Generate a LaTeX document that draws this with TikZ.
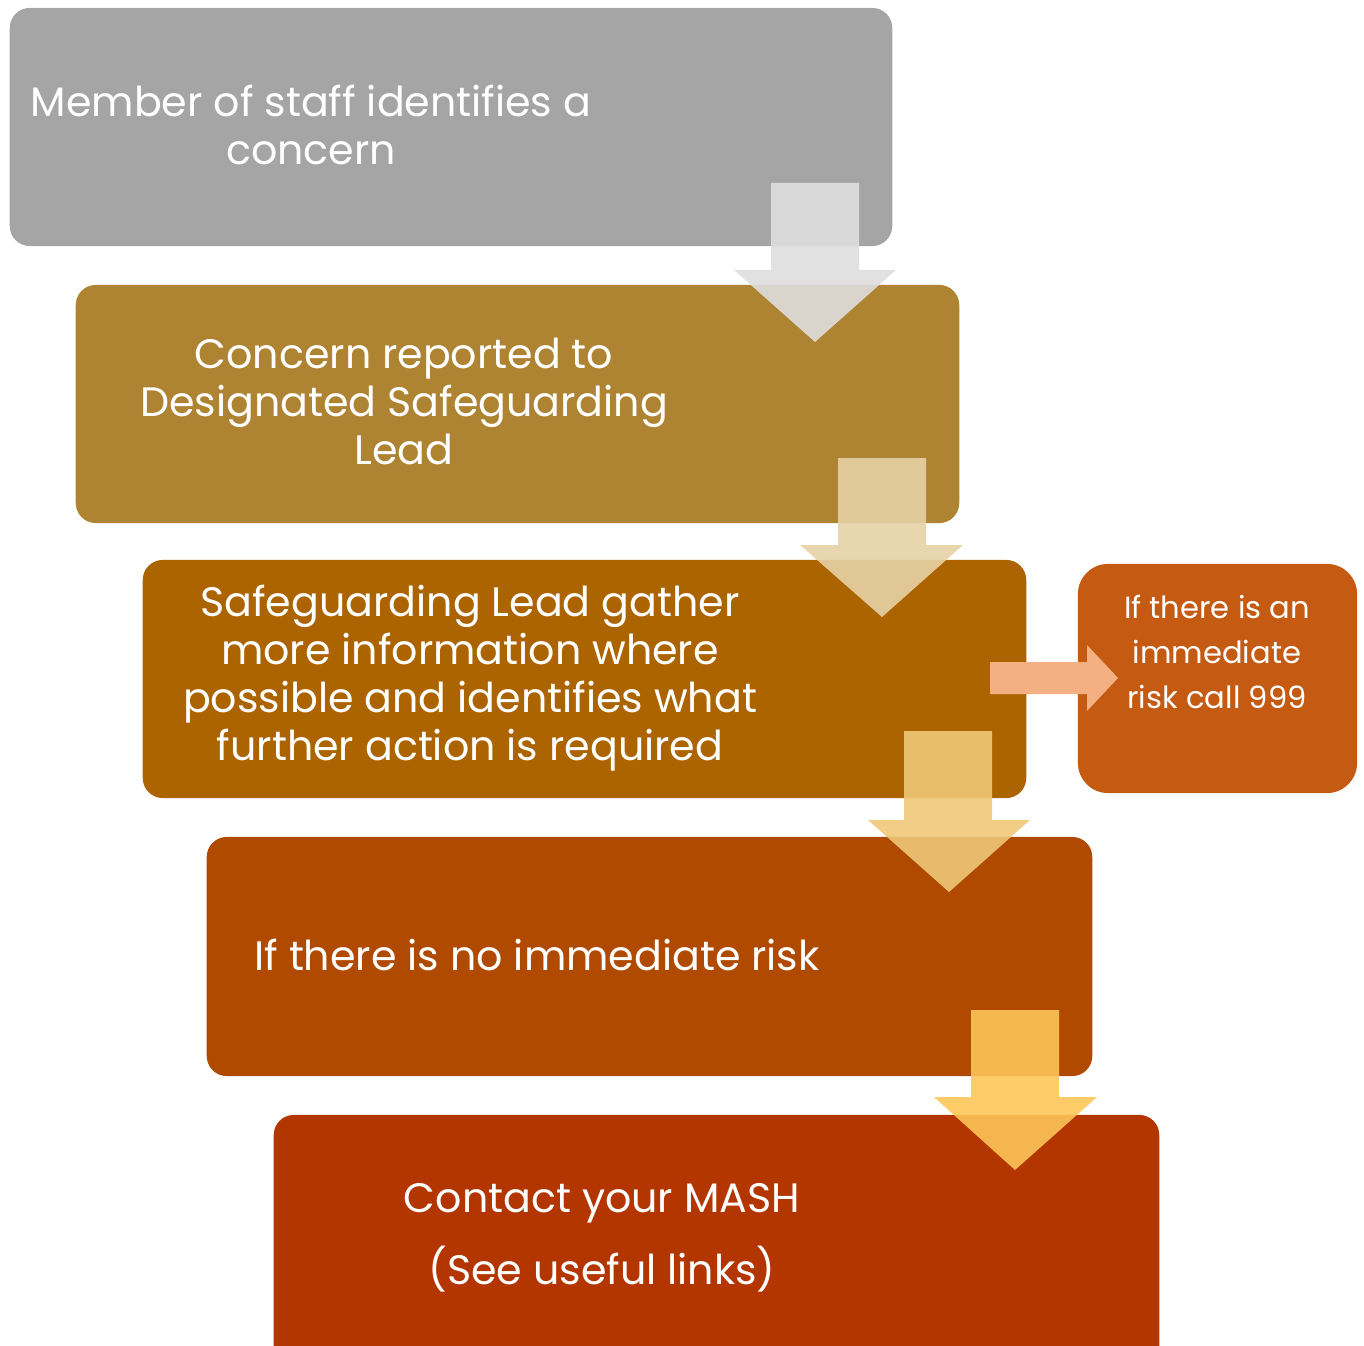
\documentclass[tikz,border=0pt]{standalone}
\usepackage{fontspec}
\setmainfont{Poppins}
\usetikzlibrary{positioning}
\definecolor{stepA}{HTML}{A5A5A5}
\definecolor{stepB}{HTML}{AE8433}
\definecolor{stepC}{HTML}{AC6400}
\definecolor{stepD}{HTML}{B04A00}
\definecolor{stepE}{HTML}{B33500}
\definecolor{sideC}{HTML}{C55A12}
\definecolor{arrA}{HTML}{DEDEDE}
\definecolor{arrB}{HTML}{E6D2A6}
\definecolor{arrC}{HTML}{EFC878}
\definecolor{arrD}{HTML}{FDC558}
\definecolor{arrE}{HTML}{F4B083}
\tikzset{
  stepbox/.style={rectangle, rounded corners=0.2cm, draw=none, inner sep=0pt},
  steptext/.style={text=white, align=center, font=\fontsize{11.7pt}{13.65pt}\selectfont},
  sidetext/.style={text=white, align=center, font=\fontsize{8.7pt}{12.8pt}\selectfont},
  downarrow/.style={draw=none, fill opacity=0.9},
}
\begin{document}
\begin{tikzpicture}[x=0.01cm, y=-0.01cm]
\useasboundingbox (0,0) rectangle (1364,1346);
% process steps
\node[stepbox, fill=stepA, minimum width=8.82cm, minimum height=2.38cm] (s1) at (451,127) {};
\node[stepbox, fill=stepB, minimum width=8.83cm, minimum height=2.38cm] (s2) at (517.5,404) {};
\node[stepbox, fill=stepC, minimum width=8.83cm, minimum height=2.38cm] (s3) at (584.5,679) {};
\node[stepbox, fill=stepD, minimum width=8.85cm, minimum height=2.39cm] (s4) at (649.5,956.5) {};
\begin{scope}
\clip (0,0) rectangle (1364,1346);
\node[stepbox, fill=stepE, minimum width=8.85cm, minimum height=2.60cm] (s5) at (716.5,1245) {};
\end{scope}
\node[stepbox, fill=sideC, minimum width=2.79cm, minimum height=2.29cm, rounded corners=0.3cm] (side) at (1217.5,678.5) {};
% step texts
\node[steptext] (t1) at (311,125) {Member of staff identifies a\\concern};
\node[steptext] (t2) at (404,401) {Concern reported to\\Designated Safeguarding\\Lead};
\node[steptext] (t3) at (470,678) {Safeguarding Lead gather\\more information where\\possible and identifies what\\further action is required};
\node[steptext] (t4) at (537,955) {If there is no immediate risk};
\node[steptext, align=center] (t5) at (602,1238) {Contact your MASH\\[0.19cm](See useful links)};
\node[sidetext] (t6) at (1217,652) {If there is an\\immediate\\risk call 999};
% arrows between steps
\fill[arrA, downarrow] (771,183) -- (859,183) -- (859,270) -- (896,270) -- (815,342) -- (734,270) -- (771,270) -- cycle;
\fill[arrB, downarrow] (838,458) -- (926,458) -- (926,545) -- (963,545) -- (882,617) -- (800,545) -- (838,545) -- cycle;
\fill[arrC, downarrow] (904,731) -- (992,731) -- (992,820) -- (1030,820) -- (949,892) -- (868,820) -- (904,820) -- cycle;
\fill[arrD, downarrow] (971,1010) -- (1059,1010) -- (1059,1097) -- (1097,1097) -- (1015,1170) -- (934,1097) -- (971,1097) -- cycle;
% side arrow
\fill[arrE] (990,662) -- (1087,662) -- (1087,645) -- (1118,678) -- (1087,711) -- (1087,694) -- (990,694) -- cycle;
\end{tikzpicture}
\end{document}
